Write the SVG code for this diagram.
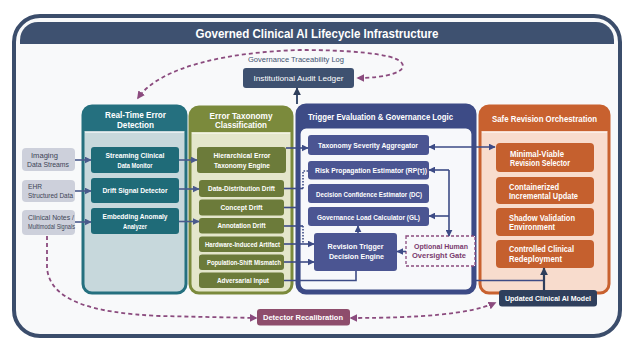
<svg xmlns="http://www.w3.org/2000/svg" width="626" height="341" viewBox="0 0 626 341">
<defs>
<style>
text{font-family:"Liberation Sans",Arial,sans-serif}
.t{fill:#fff;font-weight:bold;font-size:8px;text-anchor:middle}
.tl{fill:#fff;font-weight:bold;font-size:8.5px}
.h{fill:#fff;font-weight:bold;font-size:9.5px;text-anchor:middle}
.in{fill:#3d4556;font-size:7.5px}
.ln{fill:none;stroke:#4a5a8c;stroke-width:1.6}
.lnd{fill:none;stroke:#3d4b86;stroke-width:1.6}
.dot{fill:none;stroke:#3d4b86;stroke-width:1.6;stroke-dasharray:1.6 1.4}
.pd{fill:none;stroke:#8b4b7e;stroke-width:1.8;stroke-dasharray:4 3}
.teal{fill:#1f6b78}
.olive{fill:#6c7b3a}
.ind{fill:#4b5592}
.org{fill:#c5602e}
.inp{fill:#cdd0db}
</style>
<marker id="ah" viewBox="0 0 10 10" refX="9" refY="5" markerWidth="7" markerHeight="7" markerUnits="userSpaceOnUse" orient="auto-start-reverse">
<path d="M0 0 L10 5 L0 10 Z" fill="#4a5a8c"/>
</marker>
<marker id="an" viewBox="0 0 10 10" refX="9" refY="5" markerWidth="7" markerHeight="7" markerUnits="userSpaceOnUse" orient="auto-start-reverse">
<path d="M0 0 L10 5 L0 10 Z" fill="#3d4b86"/>
</marker>
<marker id="ak" viewBox="0 0 10 10" refX="9" refY="5" markerWidth="8" markerHeight="8" markerUnits="userSpaceOnUse" orient="auto-start-reverse">
<path d="M0 0 L10 5 L0 10 Z" fill="#2f3f5c"/>
</marker>
<marker id="ap" viewBox="0 0 10 10" refX="8" refY="5" markerWidth="8" markerHeight="8" markerUnits="userSpaceOnUse" orient="auto-start-reverse">
<path d="M0 0 L10 5 L0 10 Z" fill="#8b4b7e"/>
</marker>
</defs>

<rect width="626" height="341" fill="#ffffff"/>

<!-- outer frame and title bar -->
<g id="frame">
<rect x="14" y="16" width="606" height="320" rx="26" fill="#f8f9fa" stroke="#3b4d6b" stroke-width="4"/>
<path d="M20 44 V40 a18 18 0 0 1 18 -18 H596 a18 18 0 0 1 18 18 V44 Z" fill="#3e5170"/>
<text x="317" y="38" fill="#fff" font-weight="bold" font-size="12" text-anchor="middle" textLength="243" lengthAdjust="spacingAndGlyphs">Governed Clinical AI Lifecycle Infrastructure</text>
</g>

<!-- audit ledger -->
<g id="audit-ledger">
<text x="296" y="62" fill="#3e5170" font-size="8" text-anchor="middle" textLength="96" lengthAdjust="spacingAndGlyphs">Governance Traceability Log</text>
<rect x="243" y="68" width="111" height="20" rx="3" fill="#3e5170"/>
<text class="t" x="298.5" y="81" style="font-weight:normal" textLength="90" lengthAdjust="spacingAndGlyphs">Institutional Audit Ledger</text>
</g>

<!-- column: real-time error detection -->
<g id="col-detection">
<rect x="83" y="106" width="103" height="187" rx="9" fill="#c7d8dc" stroke="#25707f" stroke-width="3"/>
<path d="M83 131 V115 a9 9 0 0 1 9 -9 H177 a9 9 0 0 1 9 9 V131 Z" fill="#25707f"/>
<line x1="85" y1="132.5" x2="184" y2="132.5" stroke="#e6eef0" stroke-width="1.2"/>
<text class="h" x="135.5" y="118" textLength="61" lengthAdjust="spacingAndGlyphs">Real-Time Error</text>
<text class="h" x="135.5" y="127.5" textLength="37" lengthAdjust="spacingAndGlyphs">Detection</text>
</g>
<g id="streaming-monitor">
<rect class="teal" x="91" y="147" width="88" height="26" rx="3"/>
<text class="t" x="135" y="157.5" textLength="59" lengthAdjust="spacingAndGlyphs">Streaming Clinical</text>
<text class="t" x="135" y="167.5" textLength="35" lengthAdjust="spacingAndGlyphs">Data Monitor</text>
</g>
<g id="drift-detector">
<rect class="teal" x="91" y="178" width="88" height="25" rx="3"/>
<text class="t" x="135" y="193" textLength="65" lengthAdjust="spacingAndGlyphs">Drift Signal Detector</text>
</g>
<g id="embedding-analyzer">
<rect class="teal" x="91" y="208" width="88" height="26" rx="3"/>
<text class="t" x="135" y="219" textLength="65" lengthAdjust="spacingAndGlyphs">Embedding Anomaly</text>
<text class="t" x="135" y="229" textLength="24" lengthAdjust="spacingAndGlyphs">Analyzer</text>
</g>

<!-- inputs -->
<g id="input-imaging">
<rect class="inp" x="22" y="148" width="53" height="23" rx="4"/>
<text class="in" x="44.5" y="157.5" text-anchor="middle" font-size="8" textLength="27" lengthAdjust="spacingAndGlyphs">Imaging</text>
<text class="in" x="48" y="166.5" text-anchor="middle" textLength="42" lengthAdjust="spacingAndGlyphs">Data Streams</text>
</g>
<g id="input-ehr">
<rect class="inp" x="22" y="180" width="53" height="22" rx="4"/>
<text class="in" x="28" y="189" font-size="8" textLength="14" lengthAdjust="spacingAndGlyphs">EHR</text>
<text class="in" x="28" y="198" textLength="45" lengthAdjust="spacingAndGlyphs">Structured Data</text>
</g>
<g id="input-notes">
<rect class="inp" x="22" y="210" width="53" height="25" rx="4"/>
<text class="in" x="28" y="219.5" textLength="46" lengthAdjust="spacingAndGlyphs">Clinical Notes /</text>
<text class="in" x="28" y="228.5" font-size="6.5" textLength="47" lengthAdjust="spacingAndGlyphs">Multimodal Signals</text>
</g>

<!-- column: error taxonomy -->
<g id="col-taxonomy">
<rect x="190" y="107" width="102" height="186" rx="9" fill="#e4e6cb" stroke="#7b8a3c" stroke-width="3"/>
<path d="M190 132 V116 a9 9 0 0 1 9 -9 H283 a9 9 0 0 1 9 9 V132 Z" fill="#7b8a3c"/>
<line x1="192" y1="133.5" x2="290" y2="133.5" stroke="#f1f2e2" stroke-width="1.2"/>
<text class="h" x="241" y="118.5" textLength="63" lengthAdjust="spacingAndGlyphs">Error Taxonomy</text>
<text class="h" x="241" y="128" textLength="52" lengthAdjust="spacingAndGlyphs">Classification</text>
</g>
<g id="taxonomy-engine">
<rect class="olive" x="197" y="147" width="89" height="26" rx="3"/>
<text class="t" x="242" y="157.5" textLength="57" lengthAdjust="spacingAndGlyphs">Hierarchical Error</text>
<text class="t" x="242" y="167.5" textLength="56" lengthAdjust="spacingAndGlyphs">Taxonomy Engine</text>
</g>
<g id="data-drift">
<rect class="olive" x="199" y="180" width="85" height="17" rx="3"/>
<text class="t" x="241.5" y="191" font-size="7.5" textLength="67" lengthAdjust="spacingAndGlyphs">Data-Distribution Drift</text>
</g>
<g id="concept-drift">
<rect class="olive" x="199" y="199.5" width="85" height="16" rx="3"/>
<text class="t" x="241.5" y="210" font-size="7.5" textLength="42" lengthAdjust="spacingAndGlyphs">Concept Drift</text>
</g>
<g id="annotation-drift">
<rect class="olive" x="199" y="218" width="85" height="15.5" rx="3"/>
<text class="t" x="241.5" y="228" font-size="7.5" textLength="48" lengthAdjust="spacingAndGlyphs">Annotation Drift</text>
</g>
<g id="hardware-artifact">
<rect class="olive" x="199" y="236.5" width="85" height="15.5" rx="3"/>
<text class="t" x="242.5" y="246.5" font-size="7.5" textLength="75" lengthAdjust="spacingAndGlyphs">Hardware-Induced Artifact</text>
</g>
<g id="population-shift">
<rect class="olive" x="199" y="254.5" width="85" height="15.5" rx="3"/>
<text class="t" x="244" y="264.5" font-size="7.5" textLength="74" lengthAdjust="spacingAndGlyphs">Population-Shift Mismatch</text>
</g>
<g id="adversarial-input">
<rect class="olive" x="199" y="272.5" width="85" height="15.5" rx="3"/>
<text class="t" x="243" y="282.5" font-size="7.5" textLength="52" lengthAdjust="spacingAndGlyphs">Adversarial Input</text>
</g>

<!-- column: trigger evaluation -->
<g id="col-trigger">
<rect x="297" y="105" width="178" height="188" rx="9" fill="#3d4b86" stroke="#3d4b86" stroke-width="3"/>
<rect x="300" y="128" width="172" height="162" rx="6" fill="#f7f8fb" stroke="#3d4b86" stroke-width="1.2"/>
<text class="h" x="380.5" y="119.5" textLength="145" lengthAdjust="spacingAndGlyphs">Trigger Evaluation &amp; Governance Logic</text>
</g>
<g id="severity-aggregator">
<rect class="ind" x="308" y="135" width="121" height="20" rx="3"/>
<text class="t" x="368" y="148" textLength="100" lengthAdjust="spacingAndGlyphs">Taxonomy Severity Aggregator</text>
</g>
<g id="risk-estimator">
<rect class="ind" x="308" y="161" width="121" height="18.5" rx="3"/>
<text class="t" x="371" y="173" textLength="112" lengthAdjust="spacingAndGlyphs">Risk Propagation Estimator (RP(τ))</text>
</g>
<g id="confidence-estimator">
<rect class="ind" x="308" y="184" width="121" height="19" rx="3"/>
<text class="t" x="369" y="196.5" textLength="106" lengthAdjust="spacingAndGlyphs">Decision Confidence Estimator (DC)</text>
</g>
<g id="load-calculator">
<rect class="ind" x="308" y="207" width="121" height="19" rx="3"/>
<text class="t" x="368.5" y="219.5" textLength="103" lengthAdjust="spacingAndGlyphs">Governance Load Calculator (GL)</text>
</g>
<g id="trigger-engine">
<rect class="ind" x="314" y="233" width="83" height="38" rx="3"/>
<text class="t" x="355.5" y="248.5" font-size="8.5" textLength="56" lengthAdjust="spacingAndGlyphs">Revision Trigger</text>
<text class="t" x="356.5" y="258.5" font-size="8.5" textLength="55" lengthAdjust="spacingAndGlyphs">Decision Engine</text>
</g>
<g id="oversight-gate">
<rect x="406" y="236" width="69" height="30" fill="#f7f8fb" stroke="#8b4b7e" stroke-width="1.3" stroke-dasharray="3 2"/>
<text x="441" y="248.5" fill="#7a3a6e" font-weight="bold" font-size="8" text-anchor="middle" textLength="54" lengthAdjust="spacingAndGlyphs">Optional Human</text>
<text x="439" y="257.5" fill="#7a3a6e" font-weight="bold" font-size="8" text-anchor="middle" textLength="54" lengthAdjust="spacingAndGlyphs">Oversight Gate</text>
</g>

<!-- column: safe revision orchestration -->
<g id="col-revision">
<rect x="480" y="106" width="129" height="187" rx="9" fill="#f8dccd" stroke="#c8612f" stroke-width="3"/>
<path d="M480 131 V115 a9 9 0 0 1 9 -9 H600 a9 9 0 0 1 9 9 V131 Z" fill="#c8612f"/>
<line x1="482" y1="132.5" x2="607" y2="132.5" stroke="#fbeee6" stroke-width="1.2"/>
<text class="h" x="544.5" y="121.5" textLength="105" lengthAdjust="spacingAndGlyphs">Safe Revision Orchestration</text>
</g>
<g id="revision-selector">
<rect class="org" x="496" y="143" width="98" height="29" rx="4"/>
<text class="tl" x="510" y="156.5" textLength="54" lengthAdjust="spacingAndGlyphs">Minimal-Viable</text>
<text class="tl" x="510" y="166" textLength="60" lengthAdjust="spacingAndGlyphs">Revision Selector</text>
</g>
<g id="incremental-update">
<rect class="org" x="496" y="177" width="98" height="27" rx="4"/>
<text class="tl" x="509" y="189.5" textLength="50" lengthAdjust="spacingAndGlyphs">Containerized</text>
<text class="tl" x="509" y="199" textLength="69" lengthAdjust="spacingAndGlyphs">Incremental Update</text>
</g>
<g id="shadow-validation">
<rect class="org" x="496" y="208" width="98" height="28" rx="4"/>
<text class="tl" x="509" y="220.5" textLength="66" lengthAdjust="spacingAndGlyphs">Shadow Validation</text>
<text class="tl" x="509" y="230" textLength="46" lengthAdjust="spacingAndGlyphs">Environment</text>
</g>
<g id="clinical-redeployment">
<rect class="org" x="496" y="240" width="98" height="28" rx="4"/>
<text class="tl" x="509" y="252" textLength="65" lengthAdjust="spacingAndGlyphs">Controlled Clinical</text>
<text class="tl" x="509" y="261.5" textLength="53" lengthAdjust="spacingAndGlyphs">Redeployment</text>
</g>

<!-- connectors -->
<g id="connectors">
<!-- inputs to detectors -->
<line class="ln" x1="75" y1="160" x2="91" y2="160" marker-end="url(#ah)"/>
<line class="ln" x1="75" y1="191" x2="91" y2="191" marker-end="url(#ah)"/>
<line class="ln" x1="75" y1="222" x2="91" y2="222" marker-end="url(#ah)"/>
<!-- detectors to taxonomy -->
<line class="ln" x1="179" y1="160" x2="197" y2="160" marker-end="url(#ah)"/>
<line class="ln" x1="179" y1="189" x2="199" y2="189" marker-end="url(#ah)"/>
<line class="ln" x1="179" y1="221.5" x2="199" y2="221.5" marker-end="url(#ah)"/>
<!-- taxonomy to trigger logic -->
<line class="lnd" x1="286" y1="148" x2="308" y2="148" marker-end="url(#an)"/>
<polyline class="lnd" points="284,188.5 303,188.5"/>
<polyline class="dot" points="303,188.5 303,171 308,171"/>
<line class="lnd" x1="284" y1="207.5" x2="296" y2="207.5"/>
<polyline class="lnd" points="284,226 303,226"/>
<polyline class="dot" points="303,226 303,243"/>
<line class="lnd" x1="284" y1="244" x2="314" y2="244" marker-end="url(#an)"/>
<line class="lnd" x1="284" y1="262" x2="314" y2="262" marker-end="url(#an)"/>
<polyline class="lnd" points="284,280.5 356,280.5 356,271"/>
<!-- inside trigger logic -->
<line class="lnd" x1="358" y1="233" x2="358" y2="226" marker-end="url(#an)"/>
<line class="lnd" x1="406" y1="251.5" x2="397" y2="251.5" marker-end="url(#an)"/>
<polyline class="lnd" points="449,170 449,236" marker-end="url(#an)"/>
<line class="lnd" x1="449" y1="170" x2="429" y2="170" marker-end="url(#an)"/>
<line class="lnd" x1="449" y1="216" x2="429" y2="216" marker-end="url(#an)"/>
<!-- severity to revision selector -->
<line class="lnd" x1="429" y1="147" x2="495" y2="147" marker-start="url(#an)" marker-end="url(#an)"/>
<!-- trigger to redeployment -->
<polyline class="lnd" points="475,280.5 544,280.5"/>
<line stroke="#2f3f5c" stroke-width="2.2" x1="544" y1="291" x2="544" y2="268" marker-end="url(#ak)"/>
<!-- trigger to audit ledger -->
<line stroke="#3e5170" stroke-width="2" x1="297" y1="104" x2="297" y2="88" marker-end="url(#ak)"/>
<!-- traceability loop -->
<path class="pd" d="M358 78 C385 78 410 72 401 62 C392 53 345 50 300 50 C230 52 160 66 138 98" marker-start="url(#ap)" marker-end="url(#ap)"/>
<!-- clinical notes to recalibration -->
<path class="pd" d="M47 236 L47 268 C50 300 90 313 160 316 L256 318" stroke-dasharray="2.5 2.5" marker-end="url(#ap)"/>
<!-- recalibration to updated model -->
<path class="pd" d="M351 318 C420 318 470 314 495 303" marker-start="url(#ap)" marker-end="url(#ap)"/>
</g>

<g id="updated-model">
<rect x="499" y="290" width="98" height="16.5" rx="3" fill="#2f3f5c"/>
<text class="t" x="548" y="301" textLength="86" lengthAdjust="spacingAndGlyphs">Updated Clinical AI Model</text>
</g>
<g id="detector-recalibration">
<rect x="257" y="309" width="93" height="16.5" rx="3" fill="#8e4d6c"/>
<text class="t" x="303" y="320" textLength="80" lengthAdjust="spacingAndGlyphs">Detector Recalibration</text>
</g>
</svg>
